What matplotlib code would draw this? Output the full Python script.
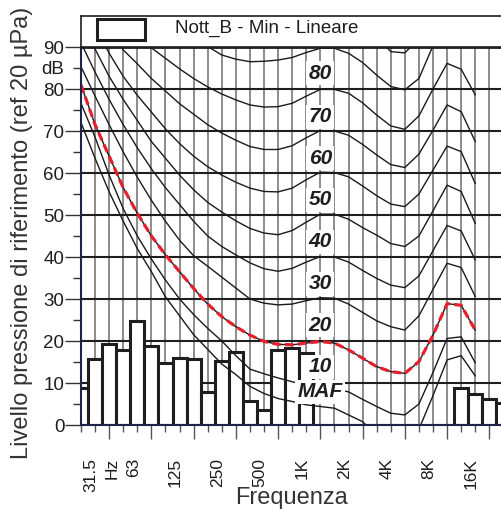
import numpy as np
import matplotlib
matplotlib.use("Agg")
import matplotlib.pyplot as plt
from matplotlib.patches import Rectangle

plt.rcParams['font.family'] = ['Liberation Sans', 'DejaVu Sans']

# 1/3-octave band centres (index 0 = 25 Hz)
bands = ['25', '31.5', '40', '50', '63', '80', '100', '125', '160', '200',
         '250', '315', '400', '500', '630', '800', '1k', '1.25k', '1.6k', '2k',
         '2.5k', '3.15k', '4k', '5k', '6.3k', '8k', '10k', '12.5k', '16k', '20k', '25k']

# measured minimum levels per band, dB
levels = [8.7, 15.7, 19.4, 17.9, 24.8, 18.8, 14.8, 15.9, 15.7, 7.9,
          15.2, 17.5, 5.6, 3.6, 17.9, 18.4, 17.1, 0, 0, 0,
          0, 0, 0, 0, 0, 0, 0, 8.9, 7.3, 6.3, 5.2]

nan = np.nan
# equal-loudness contours, 25 Hz .. 16 kHz (dB)
maf = [72, 63.5, 55.5, 48.5, 42, 36.5, 30.5, 26, 21.5, 18,
       14.5, 12, 9.2, 7.5, 6.3, 5.6, 4.8, 4.4, 4.0, 2.4,
       0.8, -2.5, -5, -5, -1, 7, 15.5, 16.5, 11.7]
phon10 = [76.6, 68.5, 59.5, 51.5, 45, 39.5, 34.5, 30, 26.3, 23,
          20, 16.5, 13.3, 12.2, 11.2, 10.3, 9.5, 8.9, 8.5, 7.9,
          6.1, 4.4, 2.8, 2.4, 5.0, 12.5, 20.6, 21.0, 14.8]
phon20 = [81, 71.5, 64, 56.5, 50.4, 45, 40.5, 36.5, 32.5, 28.8,
          25.8, 23.4, 21.4, 19.9, 19.2, 19.1, 19.5, 19.9, 19.5, 17.9,
          15.9, 13.9, 12.7, 12.3, 15.1, 21.4, 28.9, 28.5, 22.6]
phon30 = [85.3, 78.3, 71.5, 65, 59, 53.5, 48.5, 44, 40.3, 37.8,
          35.2, 32.6, 30.0, 29.0, 28.6, 28.8, 29.6, 30.3, 30.2, 28.8,
          26.8, 24.8, 23.4, 22.6, 26.0, 32.3, 38.5, 37.5, 30.6]
phon40 = [91, 84, 77.5, 71.5, 66, 61, 56.5, 52.5, 48.5, 45,
          42.5, 40.5, 38.6, 37.2, 36.6, 37.3, 38.8, 40.1, 40.0, 38.8,
          36.8, 34.9, 33.3, 32.7, 35.5, 41.5, 47.5, 46.2, 39.3]
phon50 = [97, 89.5, 83, 77.5, 72.5, 67.5, 63.5, 59.5, 56, 53,
          50.7, 48.6, 46.8, 45.7, 45.3, 46.3, 48.3, 50.2, 50.2, 49.0,
          47.0, 45.2, 43.2, 42.5, 45.0, 51.0, 57.1, 55.6, 48.0]
phon60 = [nan, 95, 88.5, 83, 78.5, 74.5, 70.5, 67, 64, 61.5,
          59.5, 57.8, 56.4, 55.6, 55.5, 56.4, 58.4, 60.2, 60.1, 59.1,
          56.9, 54.6, 52.6, 52.0, 55.0, 60.7, 66.4, 65.1, 57.5]
phon70 = [nan, nan, 95, 89.3, 86, 82.5, 79.5, 76.5, 74, 71.5,
          69.5, 67.8, 66.3, 65.6, 65.6, 66.5, 68.4, 70.1, 70.0, 69.0,
          66.8, 64.3, 62.0, 61.3, 64.5, 70.2, 76.2, 74.6, 67.5]
phon80 = [nan, nan, nan, nan, 92.5, 89.8, 87.3, 84.8, 82.5, 80.5,
          78.8, 77.4, 76.2, 75.7, 75.8, 76.6, 78.3, 79.9, 79.9, 79.0,
          76.7, 73.8, 71.2, 70.4, 73.6, 80.0, 86.1, 84.7, 78.6]
phon90 = [nan, nan, nan, nan, nan, nan, nan, nan, nan, 90.1,
          88.1, 87.1, 86.5, 86.6, 86.9, 87.5, 88.7, 89.7, 89.7, 88.5,
          86.3, 83.3, 80.6, 79.8, 82.5, 90.3, nan, nan, nan]
phon100 = [nan] * 21 + [92.5, 88.9, 88.6, 92.0, nan, nan, nan, nan]

contours = [maf, phon10, phon20, phon30, phon40, phon50, phon60, phon70,
            phon80, phon90, phon100]
contour_labels = ['MAF', '10', '20', '30', '40', '50', '60', '70', '80']
label_levels = [7.9, 13.9, 23.8, 33.6, 43.6, 53.6, 63.5, 73.4, 83.7]

tick_labels = ['31.5', 'Hz', '63', '125', '250', '500', '1K', '2K', '4K', '8K', '16K']
tick_pos = [1, 2.5, 4, 7, 10, 13, 16, 19, 22, 25, 28]

# ---- figure layout (pixel based) ----
W, H, DPI = 501, 509, 100
fig = plt.figure(figsize=(W / DPI, H / DPI), dpi=DPI)
band_px = 14.08
x_left, y_top, y_bot = 81, 47, 425
n_vis = 30.5
ax = fig.add_axes([x_left / W, (H - y_bot) / H, n_vis * band_px / W, (y_bot - y_top) / H])
ax.set_xlim(0, n_vis)
ax.set_ylim(0, 90)

idx = np.arange(len(bands))
kc = np.arange(len(maf))

# grid
for k in range(1, 31):
    ax.axvline(k, color='#8c8c8c', lw=1.4, zorder=1)
for v in range(10, 90, 10):
    ax.axhline(v, color='#1e1e1e', lw=1.5, zorder=1.2)

# spectrum bars
ax.bar(idx, levels, width=1.0, color='white', edgecolor='#1e1e1e', lw=2.2, zorder=2)

# contours
for c in contours:
    ax.plot(kc, c, color='#1a1a1a', lw=1.0, zorder=3)
ax.plot(kc, phon20, color='#e3202b', lw=2.3, dashes=(2.6, 1.4), zorder=4)

for s, lv in zip(contour_labels, label_levels):
    ax.text(17, lv, s, ha='center', va='center', fontsize=15, fontweight='bold',
            fontstyle='italic', color='#1e1e1e', zorder=6,
            bbox=dict(boxstyle='square,pad=0.12', fc='white', ec='none'))

# spines
for side in ['left', 'bottom']:
    ax.spines[side].set_color('#1c2448')
    ax.spines[side].set_linewidth(1.5)
ax.spines['top'].set_color('#1a1a1a')
ax.spines['top'].set_linewidth(2.0)
ax.spines['right'].set_visible(False)
for sp in ax.spines.values():
    sp.set_zorder(7)

# y ticks
ax.set_yticks(range(0, 91, 10))
ax.set_yticks(range(5, 90, 10), minor=True)
ax.set_yticklabels([str(v) for v in range(0, 91, 10)])
ax.set_yticklabels([''] * 8 + ['dB'], minor=True)
ax.tick_params(axis='y', which='major', length=11.5, width=1.0, color='#333333',
               labelsize=13.5, pad=0.5, labelcolor='#1e1e1e')
ax.tick_params(axis='y', which='minor', length=5.8, width=1.0, color='#333333',
               labelsize=13.5, pad=6.3, labelcolor='#1e1e1e')

# x ticks
ax.set_xticks(range(2, 31, 3))
ax.set_xticks(range(0, 31), minor=True)
ax.set_xticklabels([])
ax.tick_params(axis='x', which='major', length=10, width=1.0, color='#555555')
ax.tick_params(axis='x', which='minor', length=5, width=1.0, color='#555555')

xt = ax.get_xaxis_transform()
for p, s in zip(tick_pos, tick_labels):
    ax.text(p - 0.28, -33 / (y_bot - y_top), s, transform=xt, rotation=90,
            ha='center', va='top', fontsize=12.5, color='#1e1e1e')

fig.text(291.5 / W, (H - 504) / H, 'Frequenza', ha='center', va='baseline',
         fontsize=17, color='#333333')
fig.text(22 / W, (H - 233) / H, 'Livello pressione di riferimento (ref 20 µPa)',
         rotation=90, ha='center', va='center', fontsize=17, color='#333333')

# legend strip above the plot
lw_px = W - x_left + 30
lax = fig.add_axes([x_left / W, (H - y_top) / H, lw_px / W, 31 / H])
lax.set_xlim(0, lw_px)
lax.set_ylim(0, 31)
lax.set_xticks([])
lax.set_yticks([])
for sp in lax.spines.values():
    sp.set_color('#1e1e1e')
    sp.set_linewidth(1.2)
lax.add_patch(Rectangle((16, 7), 48, 21, fc='white', ec='#1e1e1e', lw=2.2))
lax.text(94, 13.7, 'Nott_B - Min - Lineare', ha='left', va='baseline',
         fontsize=13.5, color='#1e1e1e')

fig.savefig('out.png', dpi=DPI)
